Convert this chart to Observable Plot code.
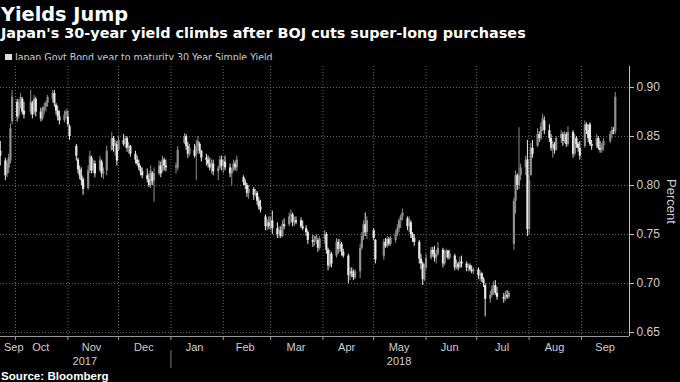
<!DOCTYPE html>
<html><head><meta charset="utf-8">
<script src="https://cdn.jsdelivr.net/npm/d3@7"></script>
<script src="https://cdn.jsdelivr.net/npm/@observablehq/plot@0.6"></script>
<style>
html,body{margin:0;padding:0;background:#000;}
body{width:680px;height:382px;position:relative;overflow:hidden;font-family:"Liberation Sans",Arial,sans-serif;}
#title{position:absolute;left:1px;top:5px;font-family:"DejaVu Sans",sans-serif;font-weight:bold;font-size:19.3px;line-height:19.3px;color:#fff;white-space:nowrap;}
#subtitle{position:absolute;left:1px;top:26px;font-family:"DejaVu Sans",sans-serif;font-weight:bold;font-size:14.4px;line-height:14.4px;color:#fff;white-space:nowrap;}
#legend{position:absolute;left:5px;top:52px;font-family:"Liberation Sans Narrow","DejaVu Sans Condensed","Liberation Sans",sans-serif;font-stretch:condensed;font-size:10.5px;line-height:10.5px;color:#ccc;white-space:nowrap;}
#legend .sw{display:inline-block;width:7px;height:7px;background:#ddd;margin-right:3px;vertical-align:0px;}
#source{position:absolute;left:1px;top:370px;font-family:"Liberation Sans",sans-serif;font-weight:bold;font-size:11.6px;line-height:11.6px;color:#fff;white-space:nowrap;}
#chart{position:absolute;left:0;top:60px;}
</style>
</head><body>
<div id="title">Yields Jump</div>
<div id="subtitle">Japan's 30-year yield climbs after BOJ cuts super-long purchases</div>
<div id="legend"><span class="sw"></span>Japan Govt Bond year to maturity 30 Year Simple Yield</div>
<div id="chart"></div>
<div id="source">Source: Bloomberg</div>
<script>
// [day, open, high, low, close] — 30Y JGB yield, percent
const sep2017 = [[22,.835,.845,.82,.83],[25,.825,.828,.805,.81],[26,.812,.826,.808,.822],[27,.818,.832,.812,.828],[28,.825,.863,.822,.858],[29,.865,.897,.862,.89]];
const oct2017 = [[2,.885,.888,.865,.87],[3,.872,.888,.868,.884],[4,.882,.894,.878,.89],[5,.888,.89,.872,.875],[6,.876,.885,.868,.872],[10,.875,.897,.872,.885],[11,.884,.886,.868,.872],[12,.874,.892,.872,.888],[13,.888,.89,.87,.875],[16,.875,.879,.865,.868],[17,.868,.88,.866,.878],[18,.876,.884,.872,.88],[19,.88,.886,.875,.884],[20,.884,.892,.88,.89],[23,.888,.897,.884,.894],[24,.894,.897,.88,.884],[25,.882,.884,.872,.876],[26,.876,.881,.866,.87],[27,.87,.876,.862,.866],[30,.866,.876,.864,.872],[31,.872,.878,.868,.875]];
const nov2017 = [[1,.87,.876,.86,.862],[2,.86,.862,.846,.85],[6,.84,.842,.825,.83],[7,.826,.828,.812,.816],[8,.816,.82,.806,.81],[9,.81,.818,.8,.805],[10,.806,.808,.79,.796],[13,.797,.82,.795,.815],[14,.815,.835,.812,.83],[15,.828,.83,.812,.815],[16,.816,.826,.812,.822],[17,.822,.825,.808,.812],[20,.815,.83,.814,.826],[21,.824,.826,.808,.812],[22,.812,.818,.806,.814],[24,.815,.84,.81,.835],[27,.836,.854,.835,.848],[28,.848,.85,.834,.84],[29,.84,.846,.83,.843],[30,.842,.845,.82,.825]];
const dec2017 = [[1,.836,.85,.835,.846],[4,.846,.852,.84,.842],[5,.842,.85,.838,.848],[6,.848,.85,.834,.838],[7,.838,.844,.832,.84],[8,.84,.841,.829,.832],[11,.832,.835,.822,.826],[12,.826,.83,.82,.822],[13,.822,.826,.815,.818],[14,.818,.82,.81,.814],[15,.814,.818,.807,.81],[18,.81,.817,.803,.806],[19,.806,.812,.798,.8],[20,.8,.82,.797,.815],[21,.812,.814,.8,.804],[22,.805,.818,.783,.812],[25,.812,.825,.81,.82],[26,.82,.824,.808,.812],[27,.814,.83,.813,.826],[28,.826,.828,.815,.82],[29,.82,.826,.814,.818]];
const jan2018 = [[4,.818,.823,.812,.82],[5,.818,.84,.815,.836],[9,.843,.853,.842,.85],[10,.85,.852,.836,.84],[11,.84,.844,.828,.832],[12,.832,.842,.83,.838],[15,.836,.842,.828,.83],[16,.832,.846,.805,.84],[17,.84,.85,.832,.845],[18,.842,.844,.832,.835],[19,.835,.836,.824,.828],[22,.828,.832,.82,.826],[23,.826,.83,.818,.822],[24,.822,.828,.815,.818],[25,.818,.826,.812,.822],[26,.822,.826,.81,.814],[29,.814,.82,.805,.818],[30,.818,.83,.816,.826],[31,.826,.83,.815,.82]];
const feb2018 = [[1,.82,.826,.812,.824],[2,.824,.83,.815,.818],[5,.818,.822,.808,.812],[6,.812,.818,.8,.815],[7,.815,.826,.814,.822],[8,.822,.825,.815,.818],[9,.818,.83,.814,.826],[13,.808,.81,.8,.803],[14,.803,.806,.796,.8],[15,.8,.802,.788,.792],[16,.792,.8,.786,.796],[19,.796,.798,.785,.79],[20,.79,.796,.788,.794],[21,.792,.794,.78,.784],[22,.784,.788,.775,.778],[23,.778,.785,.772,.775],[26,.768,.77,.754,.758],[27,.758,.765,.754,.762],[28,.762,.768,.755,.758]];
const mar2018 = [[1,.758,.768,.754,.764],[2,.764,.774,.75,.756],[5,.756,.762,.746,.75],[6,.75,.758,.746,.754],[7,.754,.758,.746,.748],[8,.748,.764,.747,.76],[9,.76,.766,.755,.758],[12,.76,.772,.758,.768],[13,.768,.775,.762,.77],[14,.77,.772,.758,.762],[15,.762,.768,.758,.764],[16,.764,.768,.76,.762],[19,.764,.767,.756,.758],[20,.758,.764,.754,.756],[22,.756,.759,.748,.752],[23,.752,.754,.74,.744],[26,.744,.749,.737,.742],[27,.742,.748,.738,.745],[28,.745,.75,.74,.748],[29,.744,.746,.732,.736],[30,.736,.748,.734,.745]];
const apr2018 = [[2,.745,.754,.74,.75],[3,.75,.752,.73,.734],[4,.734,.736,.713,.718],[5,.718,.734,.716,.73],[6,.73,.732,.716,.72],[9,.728,.746,.726,.742],[10,.742,.745,.73,.735],[11,.735,.745,.732,.74],[12,.74,.742,.728,.732],[13,.732,.735,.726,.728],[16,.728,.73,.7,.708],[17,.708,.716,.703,.712],[18,.712,.716,.706,.71],[19,.71,.714,.703,.706],[20,.706,.714,.704,.712],[23,.712,.74,.705,.736],[24,.736,.752,.734,.748],[25,.748,.764,.744,.76],[26,.76,.772,.748,.752],[27,.752,.768,.745,.764]];
const may2018 = [[1,.754,.756,.744,.746],[2,.744,.745,.72,.724],[7,.728,.745,.724,.742],[8,.742,.746,.736,.738],[9,.738,.748,.736,.745],[10,.745,.747,.738,.74],[11,.74,.748,.738,.746],[14,.744,.754,.741,.75],[15,.75,.76,.748,.756],[16,.756,.766,.752,.764],[17,.764,.77,.756,.768],[18,.768,.776,.764,.772],[21,.766,.768,.754,.758],[22,.758,.768,.752,.764],[23,.762,.764,.746,.75],[24,.75,.752,.742,.746],[25,.746,.75,.738,.742],[28,.742,.744,.72,.725],[29,.725,.73,.714,.72],[30,.72,.722,.698,.704],[31,.704,.72,.702,.716]];
const jun2018 = [[1,.716,.73,.714,.726],[4,.726,.737,.724,.734],[5,.734,.737,.727,.73],[6,.73,.738,.722,.726],[7,.726,.734,.72,.73],[8,.73,.742,.728,.736],[11,.734,.736,.716,.72],[12,.72,.734,.718,.73],[13,.73,.735,.726,.733],[14,.733,.734,.724,.726],[15,.726,.734,.724,.73],[18,.728,.73,.713,.716],[19,.716,.724,.714,.72],[20,.72,.722,.713,.716],[21,.716,.727,.715,.722],[22,.722,.728,.716,.72],[25,.72,.722,.712,.716],[26,.716,.72,.712,.718],[27,.718,.72,.712,.714],[28,.714,.718,.71,.712],[29,.712,.716,.709,.714]];
const jul2018 = [[2,.714,.716,.704,.708],[3,.708,.713,.702,.71],[4,.71,.711,.701,.704],[5,.704,.706,.696,.7],[6,.698,.7,.666,.684],[9,.684,.692,.68,.688],[10,.688,.698,.686,.694],[11,.694,.702,.688,.698],[12,.698,.703,.688,.69],[13,.69,.696,.683,.686],[17,.686,.69,.68,.684],[18,.684,.692,.682,.688],[19,.688,.693,.684,.686],[20,.686,.692,.684,.69],[23,.74,.787,.734,.784],[24,.784,.815,.771,.81],[25,.81,.812,.795,.8],[26,.8,.859,.796,.81],[27,.81,.822,.805,.818],[30,.818,.83,.81,.826],[31,.826,.846,.748,.755]];
const aug2018 = [[1,.755,.81,.75,.805],[2,.81,.843,.81,.838],[3,.838,.846,.828,.832],[6,.84,.858,.839,.852],[7,.852,.855,.844,.848],[8,.848,.864,.846,.86],[9,.86,.873,.855,.868],[10,.866,.87,.852,.856],[13,.856,.862,.844,.848],[14,.848,.852,.835,.838],[15,.838,.845,.828,.842],[16,.842,.844,.832,.836],[17,.836,.85,.835,.848],[20,.848,.856,.843,.852],[21,.852,.854,.84,.845],[22,.845,.855,.843,.852],[23,.852,.854,.839,.842],[24,.842,.86,.84,.854],[27,.854,.856,.828,.832],[28,.832,.852,.83,.848],[29,.848,.85,.838,.842],[30,.842,.844,.834,.838],[31,.838,.845,.826,.83]];
const sep2018 = [[3,.84,.866,.838,.862],[4,.862,.864,.852,.856],[5,.856,.862,.844,.848],[6,.862,.864,.84,.842],[7,.842,.846,.836,.84],[10,.84,.852,.838,.848],[11,.848,.85,.836,.838],[12,.838,.845,.833,.836],[13,.836,.843,.833,.84],[14,.84,.848,.835,.845],[18,.845,.855,.843,.852],[19,.852,.86,.848,.856],[20,.856,.859,.852,.855],[21,.855,.895,.852,.89]];

const months = [[2017,8,sep2017],[2017,9,oct2017],[2017,10,nov2017],[2017,11,dec2017],[2018,0,jan2018],[2018,1,feb2018],[2018,2,mar2018],[2018,3,apr2018],[2018,4,may2018],[2018,5,jun2018],[2018,6,jul2018],[2018,7,aug2018],[2018,8,sep2018]];

const yTicks = [0.65, 0.70, 0.75, 0.80, 0.85, 0.90];
const yDomain = [0.646, 0.9215];
const xDomain = [new Date(Date.UTC(2017,8,22,3)), new Date(Date.UTC(2018,8,29,10))];
const monthStarts = ["2017-10-01","2017-11-01","2017-12-01","2018-01-01","2018-02-01","2018-03-01","2018-04-01","2018-05-01","2018-06-01","2018-07-01","2018-08-01","2018-09-01"].map(d => new Date(d));
const monthLabels = [["2017-09-30","Sep"],["2017-10-16","Oct"],["2017-11-15","Nov"],["2017-12-16","Dec"],["2018-01-15","Jan"],["2018-02-14","Feb"],["2018-03-16","Mar"],["2018-04-15","Apr"],["2018-05-16","May"],["2018-06-15","Jun"],["2018-07-16","Jul"],["2018-08-16","Aug"],["2018-09-15","Sep"]];
const yearLabels = [["2017-11-11","2017"],["2018-05-16","2018"]];
const yearBreak = [new Date("2018-01-01")];

const data = months.flatMap(([y, m, rows]) => rows.map(([d, open, high, low, close]) => ({date: new Date(Date.UTC(y, m, d)), open, high, low, close})));
const UP = "#8f8f8f", DOWN = "#e8e8e8";
const col = d => d.close > d.open ? UP : DOWN;

const mLab = new Map(monthLabels.map(([d, t]) => [+new Date(d), t]));
const yLab = new Map(yearLabels.map(([d, t]) => [+new Date(d), t]));
const grid = {stroke: "#6a6a6a", strokeOpacity: 1, strokeDasharray: "1,2"};

const chart = Plot.plot({
  width: 680, height: 322,
  marginTop: 6, marginBottom: 46, marginLeft: 0, marginRight: 51,
  style: {background: "#000", color: "#cfcfcf", fontFamily: "'Liberation Sans', Arial, sans-serif", overflow: "visible"},
  x: {type: "utc", domain: xDomain},
  y: {domain: yDomain},
  marks: [
    Plot.gridY(yTicks, grid),
    Plot.gridX(monthStarts, grid),
    Plot.ruleX(data, {x: "date", y1: "low", y2: "high", stroke: col, strokeWidth: 1}),
    Plot.ruleX(data, {x: "date", y1: "open", y2: "close", stroke: col, strokeWidth: 2.2}),
    Plot.ruleX([xDomain[1]], {stroke: "#bdbdbd"}),
    Plot.ruleY([yDomain[0]], {stroke: "#9a9a9a"}),
    Plot.axisY(yTicks, {anchor: "right", tickSize: 4, tickPadding: 3, tickFormat: d3.format(".2f"), fontSize: 12, label: null}),
    Plot.axisX(monthStarts, {tickSize: 4, tickFormat: () => "", label: null, stroke: "#9a9a9a"}),
    Plot.axisX(monthLabels.map(([d]) => new Date(d)), {tickSize: 0, tickPadding: 7, tickFormat: d => mLab.get(+d), fontSize: 11, label: null}),
    Plot.axisX(yearBreak, {tickSize: 18, dy: 14, tickFormat: () => "", label: null, stroke: "#777"}),
    Plot.axisX(yearLabels.map(([d]) => new Date(d)), {tickSize: 0, tickPadding: 21, tickFormat: d => yLab.get(+d), fontSize: 11, label: null}),
    Plot.text(["Percent"], {frameAnchor: "right", textAnchor: "middle", text: d => d, rotate: 90, dx: 42, fontSize: 13, fill: "#cfcfcf"})
  ]
});
document.getElementById("chart").append(chart);
</script>
</body></html>
